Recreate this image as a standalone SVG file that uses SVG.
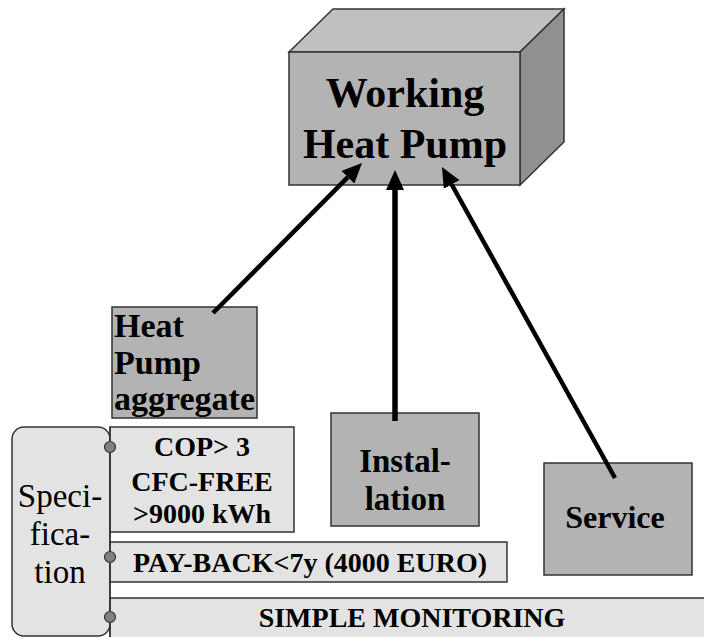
<svg xmlns="http://www.w3.org/2000/svg" width="704" height="637" viewBox="0 0 704 637">
<style>
text{font-family:"Liberation Serif","Times New Roman",serif;fill:#000}
.b{font-weight:bold}
.box{fill:#b3b3b3;stroke:#333;stroke-width:1.5}
.lt{fill:#e3e3e3;stroke:#333;stroke-width:1.5}
.dot{fill:#808080;stroke:#333;stroke-width:1.2}
.con{stroke:#000;fill:none}
</style>
<defs>
<marker id="ah" viewBox="0 0 20 18" refX="0" refY="9" markerWidth="20" markerHeight="18" markerUnits="userSpaceOnUse" orient="auto">
<path d="M0,0 L20,9 L0,18 z" fill="#000"/>
</marker>
</defs>
<g id="cube">
<polygon points="289,52 333,9 564,9 520,52" fill="#c0c0c0" stroke="#333" stroke-width="1.5"/>
<polygon points="520,52 564,9 564,142 520,185" fill="#909090" stroke="#333" stroke-width="1.5"/>
<rect x="289" y="52" width="231" height="133" class="box"/>
<text x="405" y="107" font-size="42" class="b" text-anchor="middle">Working</text>
<text x="405" y="158" font-size="42" class="b" text-anchor="middle">Heat Pump</text>
</g>
<g id="aggregate">
<rect x="112" y="307" width="145" height="111" class="box"/>
<text x="114" y="337" font-size="34" class="b">Heat</text>
<text x="114" y="374" font-size="34" class="b">Pump</text>
<text x="114" y="410" font-size="34" class="b">aggregate</text>
</g>
<g id="installation">
<rect x="331" y="413" width="148" height="113" class="box"/>
<text x="405" y="472" font-size="33" class="b" text-anchor="middle">Instal-</text>
<text x="405" y="510" font-size="33" class="b" text-anchor="middle">lation</text>
</g>
<g id="service">
<rect x="544" y="463" width="148" height="112" class="box"/>
<text x="615" y="528" font-size="32" class="b" text-anchor="middle">Service</text>
</g>
<g id="specification">
<rect x="12" y="427" width="98" height="209" rx="12" ry="12" class="lt"/>
<text x="60" y="507" font-size="33" text-anchor="middle">Speci-</text>
<text x="60" y="545" font-size="33" text-anchor="middle">fica-</text>
<text x="60" y="583" font-size="33" text-anchor="middle">tion</text>
</g>
<g id="cop">
<rect x="110" y="427" width="184" height="105" class="lt"/>
<text x="202" y="456" font-size="28" class="b" text-anchor="middle">COP&gt; 3</text>
<text x="202" y="491" font-size="28" class="b" text-anchor="middle">CFC-FREE</text>
<text x="202" y="523" font-size="28" class="b" text-anchor="middle">&gt;9000 kWh</text>
</g>
<g id="payback">
<rect x="110" y="542" width="397" height="40" class="lt"/>
<text x="310" y="572" font-size="28" class="b" text-anchor="middle">PAY-BACK&lt;7y (4000 EURO)</text>
</g>
<g id="monitoring">
<rect x="110" y="598" width="600" height="50" class="lt"/>
<text x="412" y="627" font-size="28" class="b" text-anchor="middle">SIMPLE MONITORING</text>
</g>
<g id="dots">
<line x1="110" y1="427" x2="110" y2="637" stroke="#333" stroke-width="1.5"/>
<circle cx="110" cy="447" r="5.5" class="dot"/>
<circle cx="110" cy="557" r="5.5" class="dot"/>
<circle cx="110" cy="617" r="5.5" class="dot"/>
</g>
<g id="connectors">
<line x1="213" y1="313" x2="347.9" y2="177.2" class="con" stroke-width="4.5" marker-end="url(#ah)"/>
<line x1="395" y1="421" x2="395" y2="190" class="con" stroke-width="5.5" marker-end="url(#ah)"/>
<line x1="615" y1="478" x2="451.7" y2="184.5" class="con" stroke-width="4.5" marker-end="url(#ah)"/>
</g>
</svg>
